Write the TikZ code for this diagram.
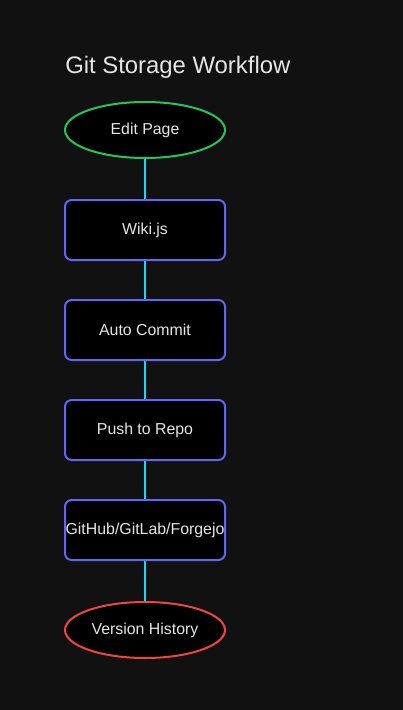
\documentclass[tikz,border=0pt]{standalone}
\usepackage{fontspec}
\setmainfont{Liberation Sans}
\usetikzlibrary{shapes.geometric}
\definecolor{bgdark}{HTML}{111111}
\definecolor{txtlight}{HTML}{E5E5E5}
\definecolor{stepblue}{HTML}{6366F1}
\definecolor{startgreen}{HTML}{22C55E}
\definecolor{endred}{HTML}{EF4444}
\definecolor{linkcyan}{HTML}{22D3EE}
\tikzset{
    stepbox/.style={draw=stepblue, fill=black, line width=1.5pt, rounded corners=5pt,
        minimum width=160*0.75pt, minimum height=60*0.75pt, inner sep=0pt,
        text=txtlight, font=\fontsize{11.9}{14}\selectfont},
    endcap/.style={ellipse, fill=black, line width=1.5pt, minimum width=160*0.75pt,
        minimum height=56*0.75pt, inner sep=0pt, text=txtlight,
        font=\fontsize{11.9}{14}\selectfont},
    link/.style={draw=linkcyan, line width=1.5pt}
}
\begin{document}
\begin{tikzpicture}[x=0.75pt, y=-0.75pt]
        % Background and bounds
        \fill[bgdark] (0,0) rectangle (403,710);
        \useasboundingbox (0,0) rectangle (403,710);

        % Title
        \node[anchor=west, inner sep=0pt, text=txtlight, font=\fontsize{17.9}{21}\selectfont] (title) at (65,67) {Git Storage Workflow};

        % Draw the connections first, nodes go on top
        \coordinate (c1) at (145,130);
        \coordinate (c6) at (145,630);
        \draw[link] (c1) -- (c6);

        % Start and end
        \node[endcap, draw=startgreen] (edit) at (145,130) {Edit Page};
        \node[endcap, draw=endred] (history) at (145,630) {Version History};

        % Steps in between
        \node[stepbox] (wiki) at (145,230) {Wiki.js};
        \node[stepbox] (commit) at (145,330) {Auto Commit};
        \node[stepbox] (push) at (145,430) {Push to Repo};
        \node[stepbox] (forge) at (145,530) {GitHub/GitLab/Forgejo};
\end{tikzpicture}
\end{document}
